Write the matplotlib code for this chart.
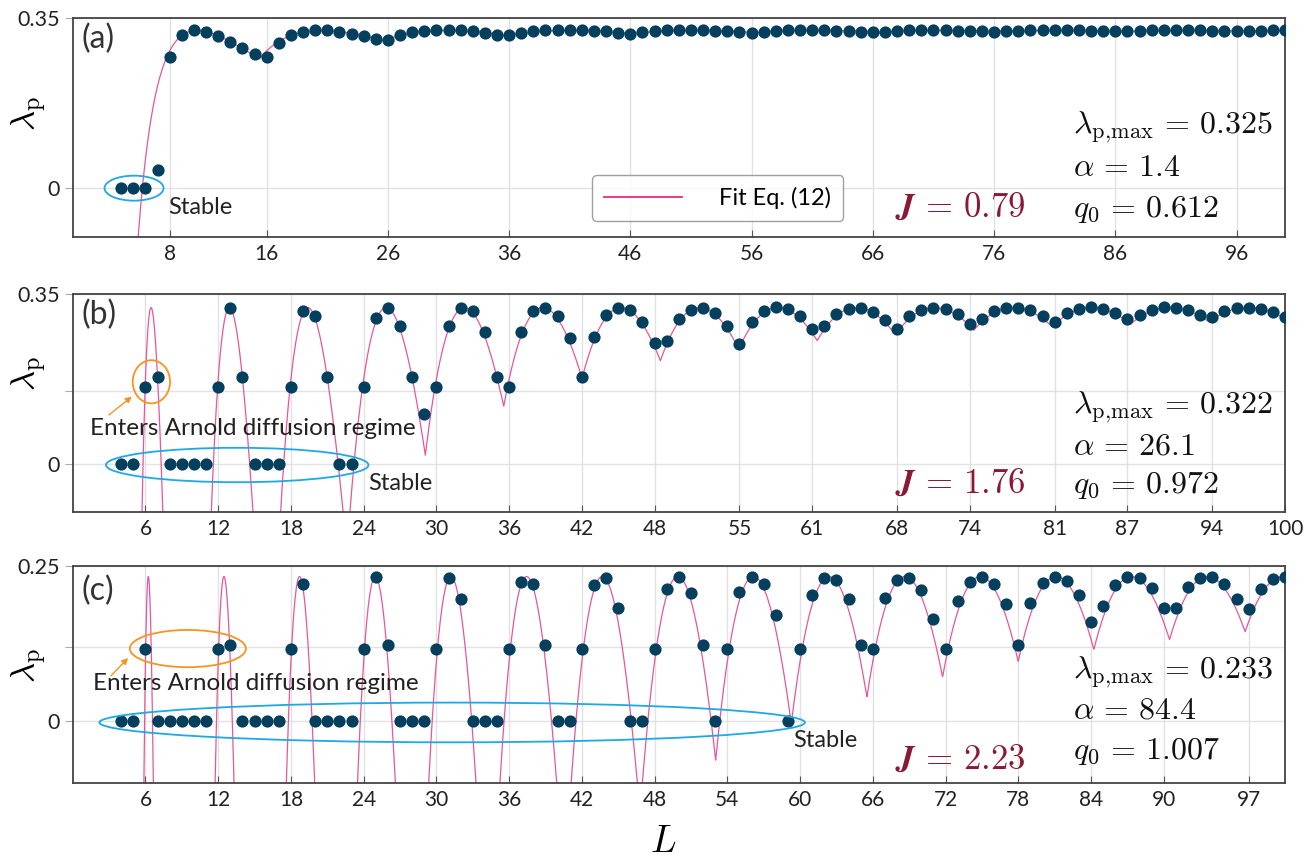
import numpy as np
import matplotlib
matplotlib.use('Agg')
import matplotlib.pyplot as plt
from matplotlib.patches import Ellipse

plt.rcParams['font.family'] = ['Lato', 'DejaVu Sans']
plt.rcParams['mathtext.fontset'] = 'cm'

# ---------------- data ----------------
L_vals = list(range(4, 101))

lam_a = [0, 0, 0, 0.038, 0.271, 0.315, 0.326, 0.322, 0.313, 0.302,
         0.289, 0.277, 0.270, 0.299, 0.315, 0.322, 0.326, 0.325, 0.322, 0.318,
         0.313, 0.308, 0.306, 0.315, 0.321, 0.324, 0.326, 0.326, 0.325, 0.324,
         0.320, 0.316, 0.315, 0.320, 0.323, 0.325, 0.325, 0.325, 0.325, 0.324,
         0.323, 0.320, 0.318, 0.321, 0.323, 0.325, 0.325, 0.325, 0.325, 0.324,
         0.323, 0.322, 0.320, 0.322, 0.323, 0.325, 0.325, 0.325, 0.325, 0.324,
         0.323, 0.322, 0.321, 0.322, 0.323, 0.325, 0.325, 0.325, 0.325, 0.324,
         0.324, 0.323, 0.322, 0.323, 0.324, 0.325, 0.325, 0.325, 0.325, 0.325,
         0.324, 0.324, 0.323, 0.323, 0.324, 0.325, 0.325, 0.325, 0.325, 0.325,
         0.324, 0.324, 0.323, 0.323, 0.324, 0.325, 0.325]

lam_b = [0, 0, 0.159, 0.178, 0, 0, 0, 0, 0.159, 0.322,
         0.178, 0, 0, 0, 0.159, 0.315, 0.305, 0.178, 0, 0,
         0.159, 0.300, 0.322, 0.285, 0.178, 0.103, 0.159, 0.285, 0.322, 0.314,
         0.271, 0.178, 0.159, 0.272, 0.315, 0.322, 0.305, 0.260, 0.178, 0.262,
         0.307, 0.322, 0.317, 0.293, 0.250, 0.254, 0.299, 0.318, 0.322, 0.310,
         0.285, 0.247, 0.292, 0.315, 0.324, 0.319, 0.305, 0.277, 0.285, 0.309,
         0.320, 0.322, 0.313, 0.297, 0.277, 0.305, 0.318, 0.322, 0.320, 0.309,
         0.289, 0.299, 0.315, 0.322, 0.322, 0.317, 0.305, 0.293, 0.310, 0.320,
         0.324, 0.320, 0.311, 0.298, 0.307, 0.318, 0.323, 0.322, 0.317, 0.307,
         0.302, 0.315, 0.322, 0.322, 0.320, 0.313, 0.303]

lam_c = [0, 0, 0.116, 0, 0, 0, 0, 0, 0.116, 0.123,
         0, 0, 0, 0, 0.116, 0.221, 0, 0, 0, 0,
         0.116, 0.232, 0.123, 0, 0, 0, 0.116, 0.231, 0.197, 0,
         0, 0, 0.116, 0.225, 0.221, 0.123, 0, 0, 0.116, 0.220,
         0.230, 0.182, 0, 0, 0.116, 0.213, 0.232, 0.207, 0.123, 0,
         0.116, 0.208, 0.232, 0.221, 0.171, 0, 0.116, 0.203, 0.231, 0.228,
         0.197, 0.123, 0.116, 0.198, 0.228, 0.231, 0.212, 0.164, 0.116, 0.193,
         0.225, 0.233, 0.221, 0.188, 0.123, 0.190, 0.223, 0.233, 0.226, 0.203,
         0.159, 0.186, 0.219, 0.232, 0.230, 0.214, 0.182, 0.183, 0.216, 0.231,
         0.232, 0.221, 0.197, 0.180, 0.213, 0.229, 0.233]

# fit parameters printed in each panel
J_vals = [0.79, 1.76, 2.23]
lam_max = [0.325, 0.322, 0.233]
alpha = [1.4, 26.1, 84.4]
q0 = [0.612, 0.972, 1.007]

xticks_a = [8, 16, 26, 36, 46, 56, 66, 76, 86, 96]
xticks_b = [6, 12, 18, 24, 30, 36, 42, 48, 55, 61, 68, 74, 81, 87, 94, 100]
xticks_c = [6, 12, 18, 24, 30, 36, 42, 48, 54, 60, 66, 72, 78, 84, 90, 97]

ytop = [0.35, 0.35, 0.25]
ymid = [None, 0.15, 0.12]

dot_color = '#053f5e'
fit_color = '#e6579a'
blue = '#1ea8e6'
orange = '#f7941e'
jcol = '#8a1a33'


def fit_eq12(L, lmax, a, q):
    # closest allowed wavenumber 2*pi*n/L to q0
    n = np.arange(1, 60)
    dq = np.min(np.abs(2*np.pi*n[None, :]/L[:, None] - q), axis=1)
    return lmax - a*dq**2


fig = plt.figure(figsize=(13.15, 8.57), dpi=100)
W, H = 1315., 857.
boxes = [(18.3, 236.7), (294.0, 512.3), (566.0, 783.3)]
axes = []
for top, bot in boxes:
    ax = fig.add_axes([72.7/W, 1-bot/H, (1285-72.7)/W, (bot-top)/H])
    axes.append(ax)

Lfine = np.linspace(1.0, 100.0, 6000)
all_lam = [lam_a, lam_b, lam_c]
all_ticks = [xticks_a, xticks_b, xticks_c]

for i, ax in enumerate(axes):
    line, = ax.plot(Lfine, fit_eq12(Lfine, lam_max[i], alpha[i], q0[i]),
                    color=fit_color, lw=0.9, zorder=2, label='Fit Eq. (12)')
    ax.plot(L_vals, all_lam[i], 'o', color=dot_color, ms=8.8, mew=0, zorder=3)
    ax.set_xlim(0, 100)
    ax.set_ylim(-0.1, ytop[i])
    ax.set_xticks(all_ticks[i])
    yt = [0, ytop[i]] if ymid[i] is None else [0, ymid[i], ytop[i]]
    ax.set_yticks(yt)
    ax.set_yticklabels(['0' if v == 0 else ('' if v == ymid[i] else '%g' % v) for v in yt])
    ax.grid(True, color='#e2e2e2', lw=1.0, zorder=0)
    ax.set_axisbelow(True)
    ax.tick_params(axis='x', direction='in', length=5, color='#555', labelsize=15,
                   labelcolor='#222', pad=5)
    ax.tick_params(axis='y', direction='out', length=6, color='#aaa', labelsize=15.5,
                   labelcolor='#222', pad=3)
    for s in ax.spines.values():
        s.set_color('#444')
        s.set_linewidth(1.3)
    ax.text(0.007, 0.905 if i < 2 else 0.885, '(%s)' % 'abc'[i], transform=ax.transAxes,
            fontsize=23, color='#333', ha='left', va='center')

    ax.text(67.8, [-0.059, -0.059, -0.077][i],
            r'$\mathbfit{J}\,=\,%s$' % ('%.2f' % J_vals[i]),
            color=jcol, fontsize=25, ha='left', va='baseline')
    base = [[0.113, 0.026, -0.059], [0.104, 0.020, -0.061], [0.070, 0.005, -0.061]][i]
    x0 = 82.5
    ax.text(x0, base[0], r'$\lambda_{\rm p,\!max}\,=\,%.3f$' % lam_max[i], fontsize=23,
            ha='left', va='baseline', color='#111')
    ax.text(x0, base[1], r'$\alpha\,=\,%.1f$' % alpha[i], fontsize=23,
            ha='left', va='baseline', color='#111')
    ax.text(x0, base[2], r'$q_0\,=\,%.3f$' % q0[i], fontsize=23,
            ha='left', va='baseline', color='#111')
    if i == 0:
        leg = ax.legend(handles=[line], loc='center', bbox_to_anchor=(0.532, 0.177),
                        fontsize=17, frameon=True, fancybox=True, handlelength=3.3,
                        handletextpad=1.6, borderpad=0.5, borderaxespad=0)
        leg.get_frame().set_edgecolor('#888')
        leg.get_frame().set_linewidth(1.0)
        leg.get_lines()[0].set_linewidth(1.3)
        leg.get_lines()[0].set_color('#f0287a')

# ---------------- annotations ----------------
ax = axes[0]
ax.add_patch(Ellipse((5.06, 0), 4.87, 0.0515, fill=False, ec=blue, lw=1.3, zorder=4))
ax.text(7.9, -0.039, 'Stable', fontsize=17, color='#222', ha='left', va='center')

ax = axes[1]
ax.add_patch(Ellipse((6.49, 0.169), 3.08, 0.089, fill=False, ec=orange, lw=1.3, zorder=4))
ax.add_patch(Ellipse((13.57, -0.0025), 21.65, 0.071, fill=False, ec=blue, lw=1.3, zorder=4))
ax.annotate('', xy=(5.06, 0.142), xytext=(2.8, 0.097),
            arrowprops=dict(arrowstyle='-|>', color=orange, lw=1.0, mutation_scale=9))
ax.text(1.43, 0.072, 'Enters Arnold diffusion regime', fontsize=17.5, color='#222',
        ha='left', va='center')
ax.text(24.4, -0.040, 'Stable', fontsize=17, color='#222', ha='left', va='center')

ax = axes[2]
ax.add_patch(Ellipse((9.5, 0.117), 9.57, 0.060, fill=False, ec=orange, lw=1.3, zorder=4))
ax.add_patch(Ellipse((31.3, -0.002), 58.2, 0.064, fill=False, ec=blue, lw=1.3, zorder=4))
ax.annotate('', xy=(4.73, 0.105), xytext=(3.0, 0.070),
            arrowprops=dict(arrowstyle='-|>', color=orange, lw=1.0, mutation_scale=9))
ax.text(1.7, 0.060, 'Enters Arnold diffusion regime', fontsize=17.5, color='#222',
        ha='left', va='center')
ax.text(59.45, -0.031, 'Stable', fontsize=17, color='#222', ha='left', va='center')

# axis labels
for yc in [114, 374, 666]:
    fig.text(29/W, 1-yc/H, r'$\lambda_{\rm p}$', rotation=90, fontsize=25,
             ha='center', va='center')
fig.text(663/W, 1-852/H, r'$L$', fontsize=27, ha='center', va='baseline')

fig.savefig('out.png', dpi=100)
